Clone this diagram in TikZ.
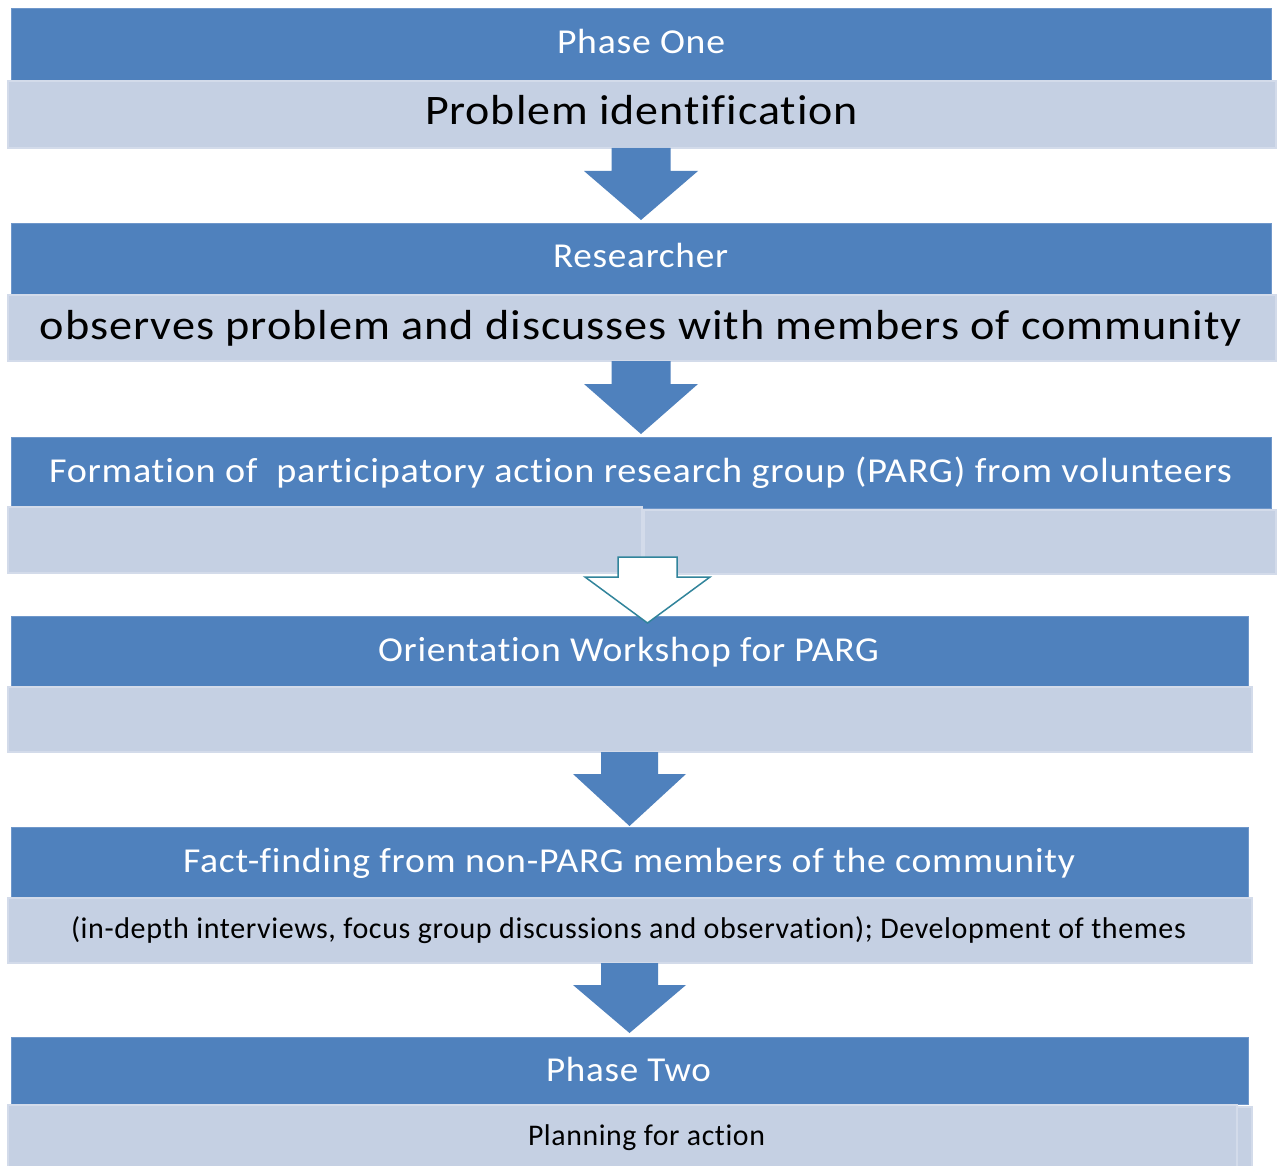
\documentclass[tikz,border=0pt]{standalone}
\usepackage{fontspec}
\setmainfont{Carlito}[LetterSpace=2,Ligatures=NoCommon]
\usetikzlibrary{calc}
\definecolor{dk}{HTML}{4F81BD}
\definecolor{dkedge}{HTML}{6F97CA}
\definecolor{lt}{HTML}{C5D0E3}
\definecolor{ltb}{HTML}{D3DBEA}
\definecolor{tealline}{HTML}{31849B}
\newlength\fitw
\newcommand\fitto[2]{\settowidth\fitw{#2}\pgfmathsetmacro\fitsx{#1/\fitw}\scalebox{\fitsx}[1]{#2}}
\begin{document}
\begin{tikzpicture}[x=1pt,y=-1pt,
  dark/.style={fill=dk, draw=dkedge, line width=0.8pt, anchor=north west, inner sep=0, outer sep=0},
  light/.style={fill=lt, draw=ltb, line width=2pt, anchor=north west, inner sep=0, outer sep=0},
  wt/.style={text=white, font=\fontsize{35}{40}\selectfont, text height=22pt, text depth=0pt, inner sep=0},
  bt/.style={text=black, font=\fontsize{42}{48}\selectfont, text height=27pt, text depth=0pt, inner sep=0},
  st/.style={text=black, font=\fontsize{30}{35}\selectfont, text height=19.5pt, text depth=0pt, inner sep=0},
  barrow/.style={fill=dk, draw=none},
  harrow/.style={fill=white, draw=tealline, line width=1.5pt, line join=miter}
]
\useasboundingbox[fill=white] (0,0) rectangle (1279,1166);

% Block 1
\node[dark, minimum width=1260, minimum height=72] (d1) at (11,8) {};
\node[light, minimum width=1268, minimum height=67] (l1) at (8,81) {};
% Block 2
\node[dark, minimum width=1260, minimum height=71] (d2) at (11,223) {};
\node[light, minimum width=1268, minimum height=66] (l2) at (8,295) {};
% Block 3
\node[dark, minimum width=1260, minimum height=71] (d3) at (11,437) {};
\node[light, minimum width=632, minimum height=64] (l3b) at (644,510) {};
\node[light, minimum width=634, minimum height=66] (l3a) at (8,507) {};
% Block 4
\node[dark, minimum width=1237, minimum height=70] (d4) at (11,616) {};
\node[light, minimum width=1244, minimum height=65] (l4) at (8,687) {};
% Block 5
\node[dark, minimum width=1237, minimum height=70] (d5) at (11,827) {};
\node[light, minimum width=1244, minimum height=65] (l5) at (8,898) {};
% Block 6
\node[dark, minimum width=1237, minimum height=67] (d6) at (11,1037) {};
\node[light, minimum width=1244, minimum height=64] (l6b) at (8,1107) {};
\node[light, minimum width=1229, minimum height=66] (l6) at (8,1105) {};

% Texts
\node[wt] (t1) at (641,43) {\fitto{168}{Phase One}};
\node[bt] (t2) at (641.5,111) {\fitto{433}{Problem identification}};
\node[wt] (t3) at (640.5,257) {\fitto{175}{Researcher}};
\node[bt] (t4) at (641,326) {\fitto{1202}{observes problem and discusses with members of community}};
\node[wt] (t5) at (640.5,471) {\fitto{1183}{Formation of\ \ participatory action research group (PARG) from volunteers}};
\node[wt] (t6) at (628.5,650) {\fitto{501}{Orientation Workshop for PARG}};
\node[wt] (t7) at (629,861) {\fitto{892}{Fact-finding from non-PARG members of the community}};
\node[st] (t8) at (628.5,929) {\fitto{1115}{(in-depth interviews, focus group discussions and observation); Development of themes}};
\node[wt] (t9) at (628.5,1070) {\fitto{165}{Phase Two}};
\node[st] (t10) at (646.5,1136) {\fitto{237}{Planning for action}};

% Block arrows (connectors)
\path let \p1=(l1.south), \p2=(d2.north) in
  [barrow] (641-29.5,\y1) -- (641+29.5,\y1) -- (641+29.5,\y1-23pt) -- (641+57,\y1-23pt)
  -- (641,\y2+3pt) -- (641-57,\y1-23pt) -- (641-29.5,\y1-23pt) -- cycle;
\path let \p1=(l2.south), \p2=(d3.north) in
  [barrow] (641-29.5,\y1) -- (641+29.5,\y1) -- (641+29.5,\y1-23pt) -- (641+57,\y1-23pt)
  -- (641,\y2+3pt) -- (641-57,\y1-23pt) -- (641-29.5,\y1-23pt) -- cycle;
\path let \p1=(l3a.south), \p2=(d4.north) in
  [harrow] (647.5-29.5,\y1+16pt) -- (647.5+29.5,\y1+16pt) -- (647.5+29.5,\y1-4pt) -- (647.5+62.5,\y1-4pt)
  -- (647.5,\y2-7pt) -- (647.5-62.5,\y1-4pt) -- (647.5-29.5,\y1-4pt) -- cycle;
\path let \p1=(l4.south), \p2=(d5.north) in
  [barrow] (629.5-28.5,\y1) -- (629.5+28.5,\y1) -- (629.5+28.5,\y1-22pt) -- (629.5+56.5,\y1-22pt)
  -- (629.5,\y2+1pt) -- (629.5-56.5,\y1-22pt) -- (629.5-28.5,\y1-22pt) -- cycle;
\path let \p1=(l5.south), \p2=(d6.north) in
  [barrow] (629.5-28.5,\y1) -- (629.5+28.5,\y1) -- (629.5+28.5,\y1-22pt) -- (629.5+56.5,\y1-22pt)
  -- (629.5,\y2+4pt) -- (629.5-56.5,\y1-22pt) -- (629.5-28.5,\y1-22pt) -- cycle;
\end{tikzpicture}
\end{document}
